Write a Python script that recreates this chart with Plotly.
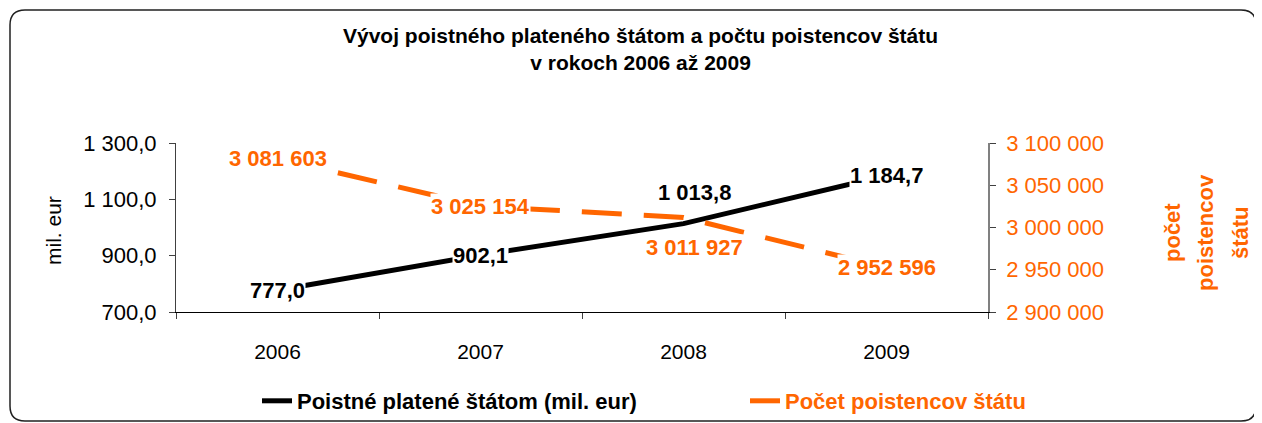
import plotly.graph_objects as go

years = ["2006", "2007", "2008", "2009"]
premium = [777.0, 902.1, 1013.8, 1184.7]
insured = [3081603, 3025154, 3011927, 2952596]
premium_labels = ["777,0", "902,1", "1 013,8", "1 184,7"]
insured_labels = ["3 081 603", "3 025 154", "3 011 927", "2 952 596"]
left_ticks = [700, 900, 1100, 1300]
left_tick_text = ["700,0", "900,0", "1 100,0", "1 300,0"]
right_ticks = [2900000, 2950000, 3000000, 3050000, 3100000]
right_tick_text = ["2 900 000", "2 950 000", "3 000 000", "3 050 000", "3 100 000"]

ORANGE = "#FF6600"
FONT = "Liberation Sans, Arial, sans-serif"

OFF = 8  # page body margin
W, H = 1262 - OFF, 423 - OFF
# plot area in screen pixels
L, R, T, B = 176, 988, 143, 312

fig = go.Figure()
fig.add_trace(go.Scatter(
    x=years, y=premium, mode="lines", name="Poistné platené štátom (mil. eur)",
    line=dict(color="black", width=5), yaxis="y", legend="legend"))
fig.add_trace(go.Scatter(
    x=years, y=insured, mode="lines", name="Počet poistencov štátu",
    line=dict(color=ORANGE, width=5, dash="40px,22px"), yaxis="y2", legend="legend2"))

annotations = []
prem_shift = [(0, 0), (0, 0), (11, 31), (0, 0)]
ins_shift = [(0, 0), (0, 0), (11, -30), (0, 0)]
for i in range(len(years)):
    annotations.append(dict(x=i, y=premium[i], xref="x", yref="y", text=premium_labels[i],
                            showarrow=False, bgcolor="white", borderpad=0,
                            xanchor="center", yanchor="middle",
                            xshift=prem_shift[i][0], yshift=prem_shift[i][1],
                            font=dict(family=FONT, size=22, color="black", weight="bold")))
    annotations.append(dict(x=i, y=insured[i], xref="x", yref="y2", text=insured_labels[i],
                            showarrow=False, bgcolor="white", borderpad=0,
                            xanchor="center", yanchor="middle",
                            xshift=ins_shift[i][0], yshift=ins_shift[i][1],
                            font=dict(family=FONT, size=22, color=ORANGE, weight="bold")))

pw, ph = R - L, B - T
def px(x):
    return (x - L) / pw
def py(y):
    return (B - y) / ph

annotations.append(dict(x=px(53), y=py(230), xref="paper", yref="paper", text="mil. eur",
                        textangle=-90, showarrow=False, xanchor="center", yanchor="middle",
                        font=dict(family=FONT, size=21, color="black")))
for xx, txt in [(1172, "počet"), (1205, "poistencov"), (1240, "štátu")]:
    annotations.append(dict(x=px(xx), y=py(233), xref="paper", yref="paper", text=txt,
                            textangle=-90, showarrow=False, xanchor="center", yanchor="middle",
                            font=dict(family=FONT, size=22, color=ORANGE, weight="bold")))

# title (two lines)
annotations.append(dict(x=px(640), y=py(49.5), xref="paper", yref="paper",
                        text="Vývoj poistného plateného štátom a počtu poistencov štátu<br>v rokoch 2006 až 2009",
                        showarrow=False, xanchor="center", yanchor="middle",
                        font=dict(family=FONT, size=21, color="black", weight="bold")))

# rounded outer border
x0, x1, y0, y1, r = 10, 1256, 10, 421, 15
rx, ry = r / pw, r / ph
path = (f"M {px(x0)+rx} {py(y0)} L {px(x1)-rx} {py(y0)} Q {px(x1)} {py(y0)} {px(x1)} {py(y0)-ry} "
        f"L {px(x1)} {py(y1)+ry} Q {px(x1)} {py(y1)} {px(x1)-rx} {py(y1)} "
        f"L {px(x0)+rx} {py(y1)} Q {px(x0)} {py(y1)} {px(x0)} {py(y1)+ry} "
        f"L {px(x0)} {py(y0)-ry} Q {px(x0)} {py(y0)} {px(x0)+rx} {py(y0)} Z")

legend_font = dict(family=FONT, size=22, weight="bold")
fig.update_layout(
    width=W, height=H,
    margin=dict(l=L - OFF, r=W - (R - OFF), t=T - OFF, b=H - (B - OFF), autoexpand=False),
    paper_bgcolor="white", plot_bgcolor="white",
    font=dict(family=FONT, size=21, color="black"),
    xaxis=dict(type="category", range=[-0.5, 3.5], showgrid=False, showline=True,
               linecolor="black", linewidth=1, ticks="outside", ticklen=6,
               tickson="boundaries", tickcolor="#404040", ticklabelstandoff=21,
               tickfont=dict(size=21), zeroline=False),
    yaxis=dict(range=[700, 1300], tickvals=left_ticks, ticktext=left_tick_text,
               showgrid=False, showline=True, linecolor="#404040", linewidth=1,
               ticks="outside", ticklen=6, tickcolor="#404040", ticklabelstandoff=8,
               tickfont=dict(size=22), zeroline=False),
    yaxis2=dict(range=[2900000, 3100000], tickvals=right_ticks, ticktext=right_tick_text,
                overlaying="y", side="right", showgrid=False, showline=True,
                linecolor="#808080", linewidth=1.5, ticks="outside", ticklen=6,
                tickcolor="#404040", ticklabelstandoff=6,
                tickfont=dict(size=22, color=ORANGE), zeroline=False),
    showlegend=True,
    legend=dict(orientation="h", x=px(257), xanchor="left", y=py(401), yanchor="middle",
                font=legend_font, bgcolor="rgba(0,0,0,0)"),
    legend2=dict(orientation="h", x=px(745), xanchor="left", y=py(401), yanchor="middle",
                 font=dict(family=FONT, size=22, weight="bold", color=ORANGE),
                 bgcolor="rgba(0,0,0,0)"),
    annotations=annotations,
    shapes=[dict(type="path", xref="paper", yref="paper", path=path,
                 line=dict(color="#202020", width=1.5), layer="above")],
)

fig.write_html("out.html")
